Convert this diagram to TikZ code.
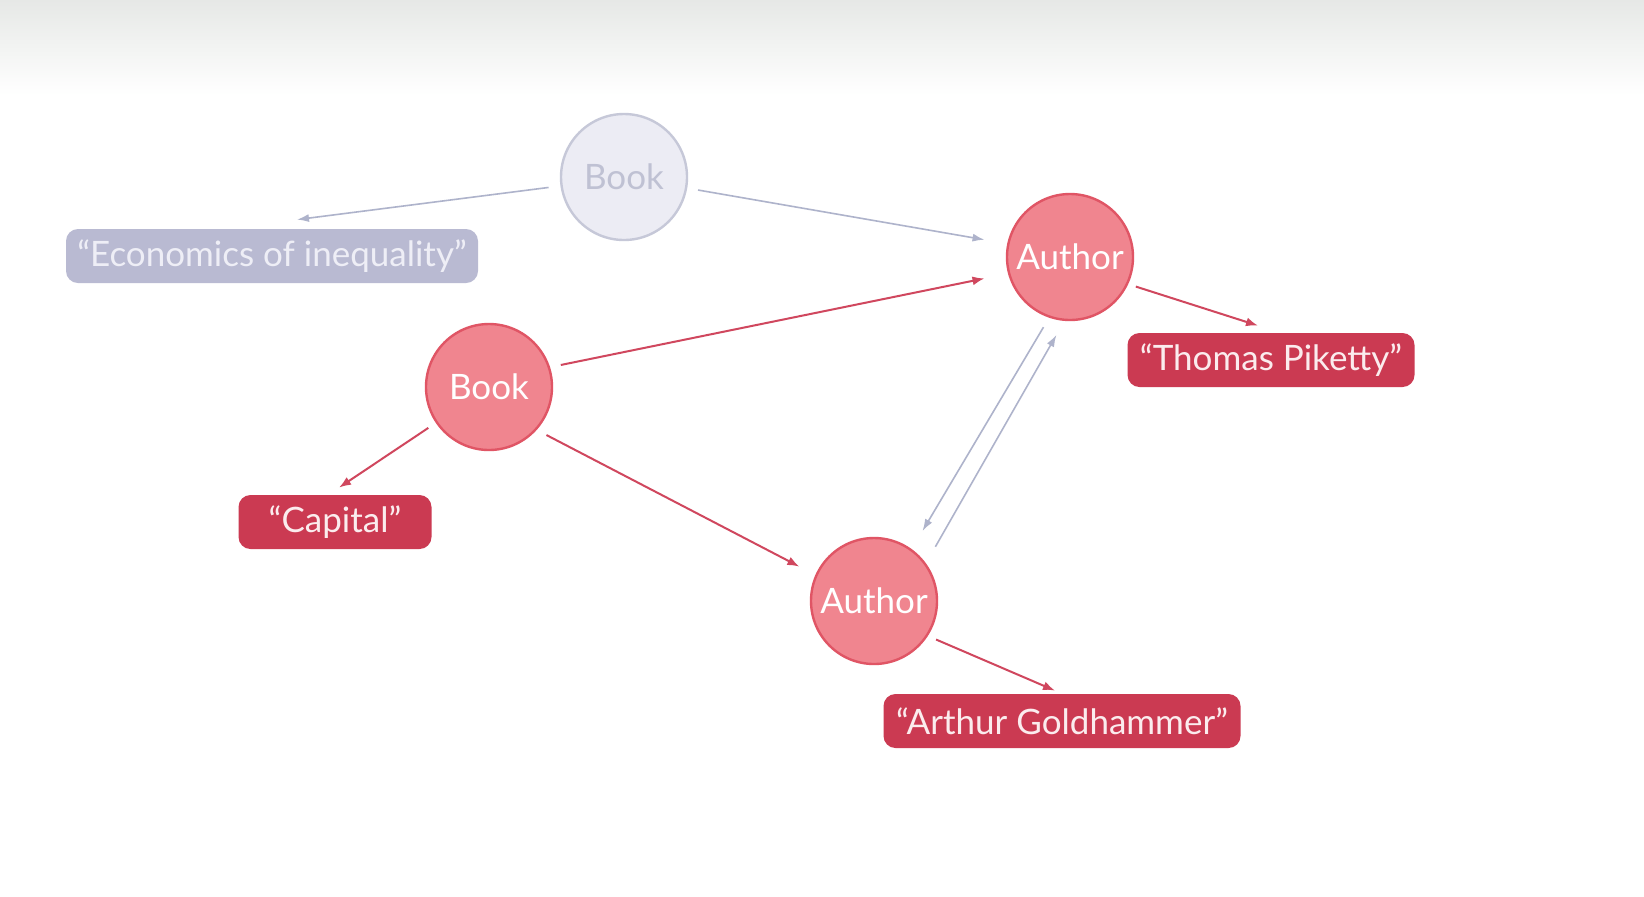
\documentclass[tikz,border=0pt]{standalone}
\usepackage{fontspec}
\setmainfont{Lato}
\usetikzlibrary{arrows.meta,calc}
\definecolor{bgtop}{HTML}{E6E8E6}
\definecolor{redfill}{HTML}{F0858F}
\definecolor{redline}{HTML}{E05565}
\definecolor{boxred}{HTML}{CB3A52}
\definecolor{boxtext}{HTML}{FBECEE}
\definecolor{grayfill}{HTML}{ECECF4}
\definecolor{grayline}{HTML}{C6C8D8}
\definecolor{graybox}{HTML}{B9BAD2}
\definecolor{graytext}{HTML}{EEEEF6}
\definecolor{grayedge}{HTML}{AEB3CB}
\definecolor{grayword}{HTML}{BFC1D3}
\definecolor{redge}{HTML}{D0475E}
\begin{document}
\begin{tikzpicture}[x=0.5pt,y=-0.5pt,
  txt/.style={font=\fontsize{17.5}{21}\selectfont},
  rnode/.style={txt,circle,draw=redline,line width=1.2pt,fill=redfill,minimum size=63pt,inner sep=0pt,text=white},
  gnode/.style={txt,circle,draw=grayline,line width=1.2pt,fill=grayfill,minimum size=63pt,inner sep=0pt,text=grayword},
  rbox/.style={txt,rectangle,rounded corners=6pt,fill=boxred,text=boxtext,minimum height=27pt,inner xsep=4pt},
  gbox/.style={txt,rectangle,rounded corners=6pt,fill=graybox,text=graytext,minimum height=27pt,inner xsep=4pt},
  redarrow/.style={draw=redge,line width=1pt,-{Latex[length=6pt,width=4.5pt]}},
  grayarrow/.style={draw=grayedge,line width=0.8pt,-{Latex[length=6pt,width=4pt]}}]
\fill[white] (0,0) rectangle (1644,896);
\shade[top color=bgtop,bottom color=white] (0,0) rectangle (1644,95);
\useasboundingbox (0,0) rectangle (1644,896);

\node[gnode] (gbook) at (624,177) {Book};
\node[gbox,minimum width=206pt] (econ) at (272,256) {“Economics of inequality”};
\node[rnode] (auth1) at (1070,257) {Author};
\node[rbox,minimum width=143.5pt] (thomas) at (1271,360) {“Thomas Piketty”};
\node[rnode] (book) at (489,387) {Book};
\node[rbox,minimum width=96.5pt] (cap) at (335,522) {“Capital”};
\node[rnode] (auth2) at (874,601) {Author};
\node[rbox,minimum width=178.5pt] (arthur) at (1062,721) {“Arthur Goldhammer”};

\draw[grayarrow,shorten <=6pt] (gbook.188) -- ($(econ.north)+(25,-9)$);
\draw[grayarrow,shorten <=5.5pt,shorten >=11.5pt] (gbook.-10) -- (auth1.168.6);
\draw[redarrow,shorten <=5.5pt,shorten >=12pt] (book.18.2) -- (auth1.195.3);
\draw[redarrow,shorten <=4.5pt] (book.214.8) -- ($(cap.north)+(4,-7)$);
\draw[redarrow,shorten <=5.5pt,shorten >=9pt] (book.-42.8) -- (auth2.156.6);
\draw[redarrow,shorten <=4pt] (auth1.-25) -- ($(thomas.north)+(-13,-7)$);
\draw[redarrow,shorten <=4.5pt] (auth2.-33) -- ($(arthur.north)+(-7,-3)$);
\draw[grayarrow,shorten <=5.5pt,shorten >=10.5pt] (auth1.251) -- (auth2.54.2);
\draw[grayarrow,shorten <=9.5pt,shorten >=8pt] (auth2.36) -- (auth1.265.7);
\end{tikzpicture}
\end{document}
